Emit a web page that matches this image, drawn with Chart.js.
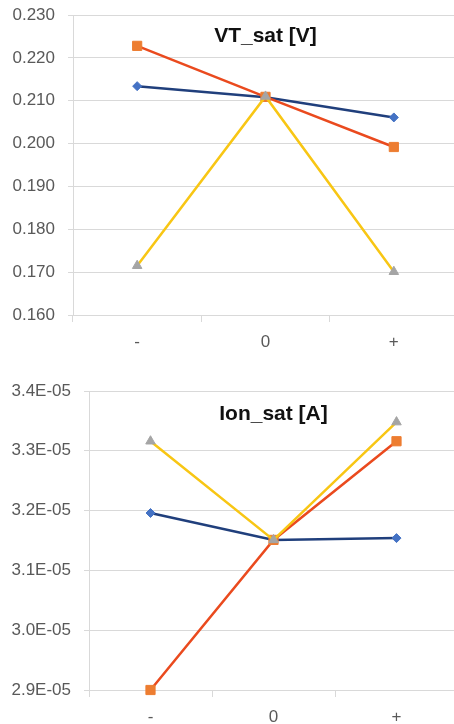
<!DOCTYPE html>
<html>
<head>
<meta charset="utf-8">
<script src="https://cdn.jsdelivr.net/npm/chart.js@4"></script>
<style>
  html, body { margin: 0; padding: 0; background: #fff; overflow: hidden; width: 454px; height: 724px; }
  canvas { position: absolute; left: 0; }
  #vt { top: 0; }
  #ion { top: 355px; }
</style>
</head>
<body>
<canvas id="vt" width="458" height="355"></canvas>
<canvas id="ion" width="458" height="369"></canvas>
<script>
// Bias conditions on the x axis
const categories = ['-', '0', '+'];

// Saturation threshold voltage [V]
const vtSeries1 = [0.2134, 0.2108, 0.2061];
const vtSeries2 = [0.2228, 0.2109, 0.1992];
const vtSeries3 = [0.1715, 0.2110, 0.1701];
const vtTicks = [0.160, 0.170, 0.180, 0.190, 0.200, 0.210, 0.220, 0.230];

// Saturation on-current [A]
const ionSeries1 = [3.196e-5, 3.151e-5, 3.154e-5];
const ionSeries2 = [2.900e-5, 3.151e-5, 3.316e-5];
const ionSeries3 = [3.316e-5, 3.151e-5, 3.348e-5];
const ionTicks = [2.9e-5, 3.0e-5, 3.1e-5, 3.2e-5, 3.3e-5, 3.4e-5];

const FONT = '"Liberation Sans", Arial, sans-serif';
const GRID = '#d9d9d9';
const LABEL = '#595959';

// Excel-style scientific label, e.g. 3.4E-05
function sci(v) {
  const parts = v.toExponential(1).split('e');
  const n = parseInt(parts[1], 10);
  return parts[0] + 'E' + (n < 0 ? '-' : '+') + String(Math.abs(n)).padStart(2, '0');
}

// Title drawn inside the plot area
const panelTitle = {
  id: 'panelTitle',
  afterDatasetsDraw(chart, args, opts) {
    const ctx = chart.ctx;
    const a = chart.chartArea;
    ctx.save();
    ctx.font = 'bold 21px ' + FONT;
    ctx.fillStyle = '#111';
    ctx.textAlign = 'center';
    ctx.textBaseline = 'alphabetic';
    ctx.fillText(opts.text, (a.left + a.right) / 2, opts.y);
    ctx.restore();
  }
};

function series(data, line, marker, style, radius, order) {
  return {
    data: data,
    borderColor: line,
    borderWidth: 2.5,
    pointStyle: style,
    pointRadius: radius,
    pointBackgroundColor: marker,
    pointBorderColor: marker,
    pointBorderWidth: 1,
    tension: 0,
    clip: false,
    order: order
  };
}

function makeChart(id, s1, s2, s3, ticks, fmt, cfg) {
  return new Chart(document.getElementById(id), {
    type: 'line',
    data: {
      labels: categories,
      datasets: [
        series(s1, '#203f7c', '#4472c4', 'rectRot', 4.5, 2),
        series(s2, '#ea4a1e', '#ed7d31', 'rect', 6.5, 1),
        series(s3, '#f8c614', '#a5a5a5', 'triangle', 5.5, 0)
      ]
    },
    options: {
      responsive: false,
      animation: false,
      devicePixelRatio: 1,
      layout: { autoPadding: false, padding: { top: cfg.top, left: 0, right: 0, bottom: 0 } },
      plugins: {
        legend: { display: false },
        tooltip: { enabled: false },
        panelTitle: { text: cfg.title, y: cfg.titleY }
      },
      scales: {
        x: {
          type: 'category',
          offset: true,
          grid: { offset: true, drawOnChartArea: false, tickLength: 7, color: GRID, lineWidth: 1 },
          border: { color: GRID, width: 1 },
          ticks: { font: { family: FONT, size: 17 }, color: LABEL, padding: 10, maxRotation: 0 },
          afterFit(s) { s.height = cfg.bottom; s.paddingLeft = 0; s.paddingRight = 0; }
        },
        y: {
          type: 'linear',
          min: ticks[0],
          max: ticks[ticks.length - 1],
          afterBuildTicks(s) { s.ticks = ticks.map(v => ({ value: v })); },
          grid: { color: GRID, tickLength: 5, lineWidth: 1 },
          border: { color: GRID, width: 1 },
          ticks: { font: { family: FONT, size: 17 }, color: LABEL, padding: 13, callback: v => fmt(v) },
          afterFit(s) { s.width = cfg.left; s.paddingTop = 0; s.paddingBottom = 0; }
        }
      }
    },
    plugins: [panelTitle]
  });
}

makeChart('vt', vtSeries1, vtSeries2, vtSeries3, vtTicks, v => v.toFixed(3),
  { title: 'VT_sat [V]', titleY: 42, top: 15, bottom: 40, left: 73 });

makeChart('ion', ionSeries1, ionSeries2, ionSeries3, ionTicks, sci,
  { title: 'Ion_sat [A]', titleY: 65, top: 36, bottom: 34, left: 89 });
</script>
</body>
</html>
